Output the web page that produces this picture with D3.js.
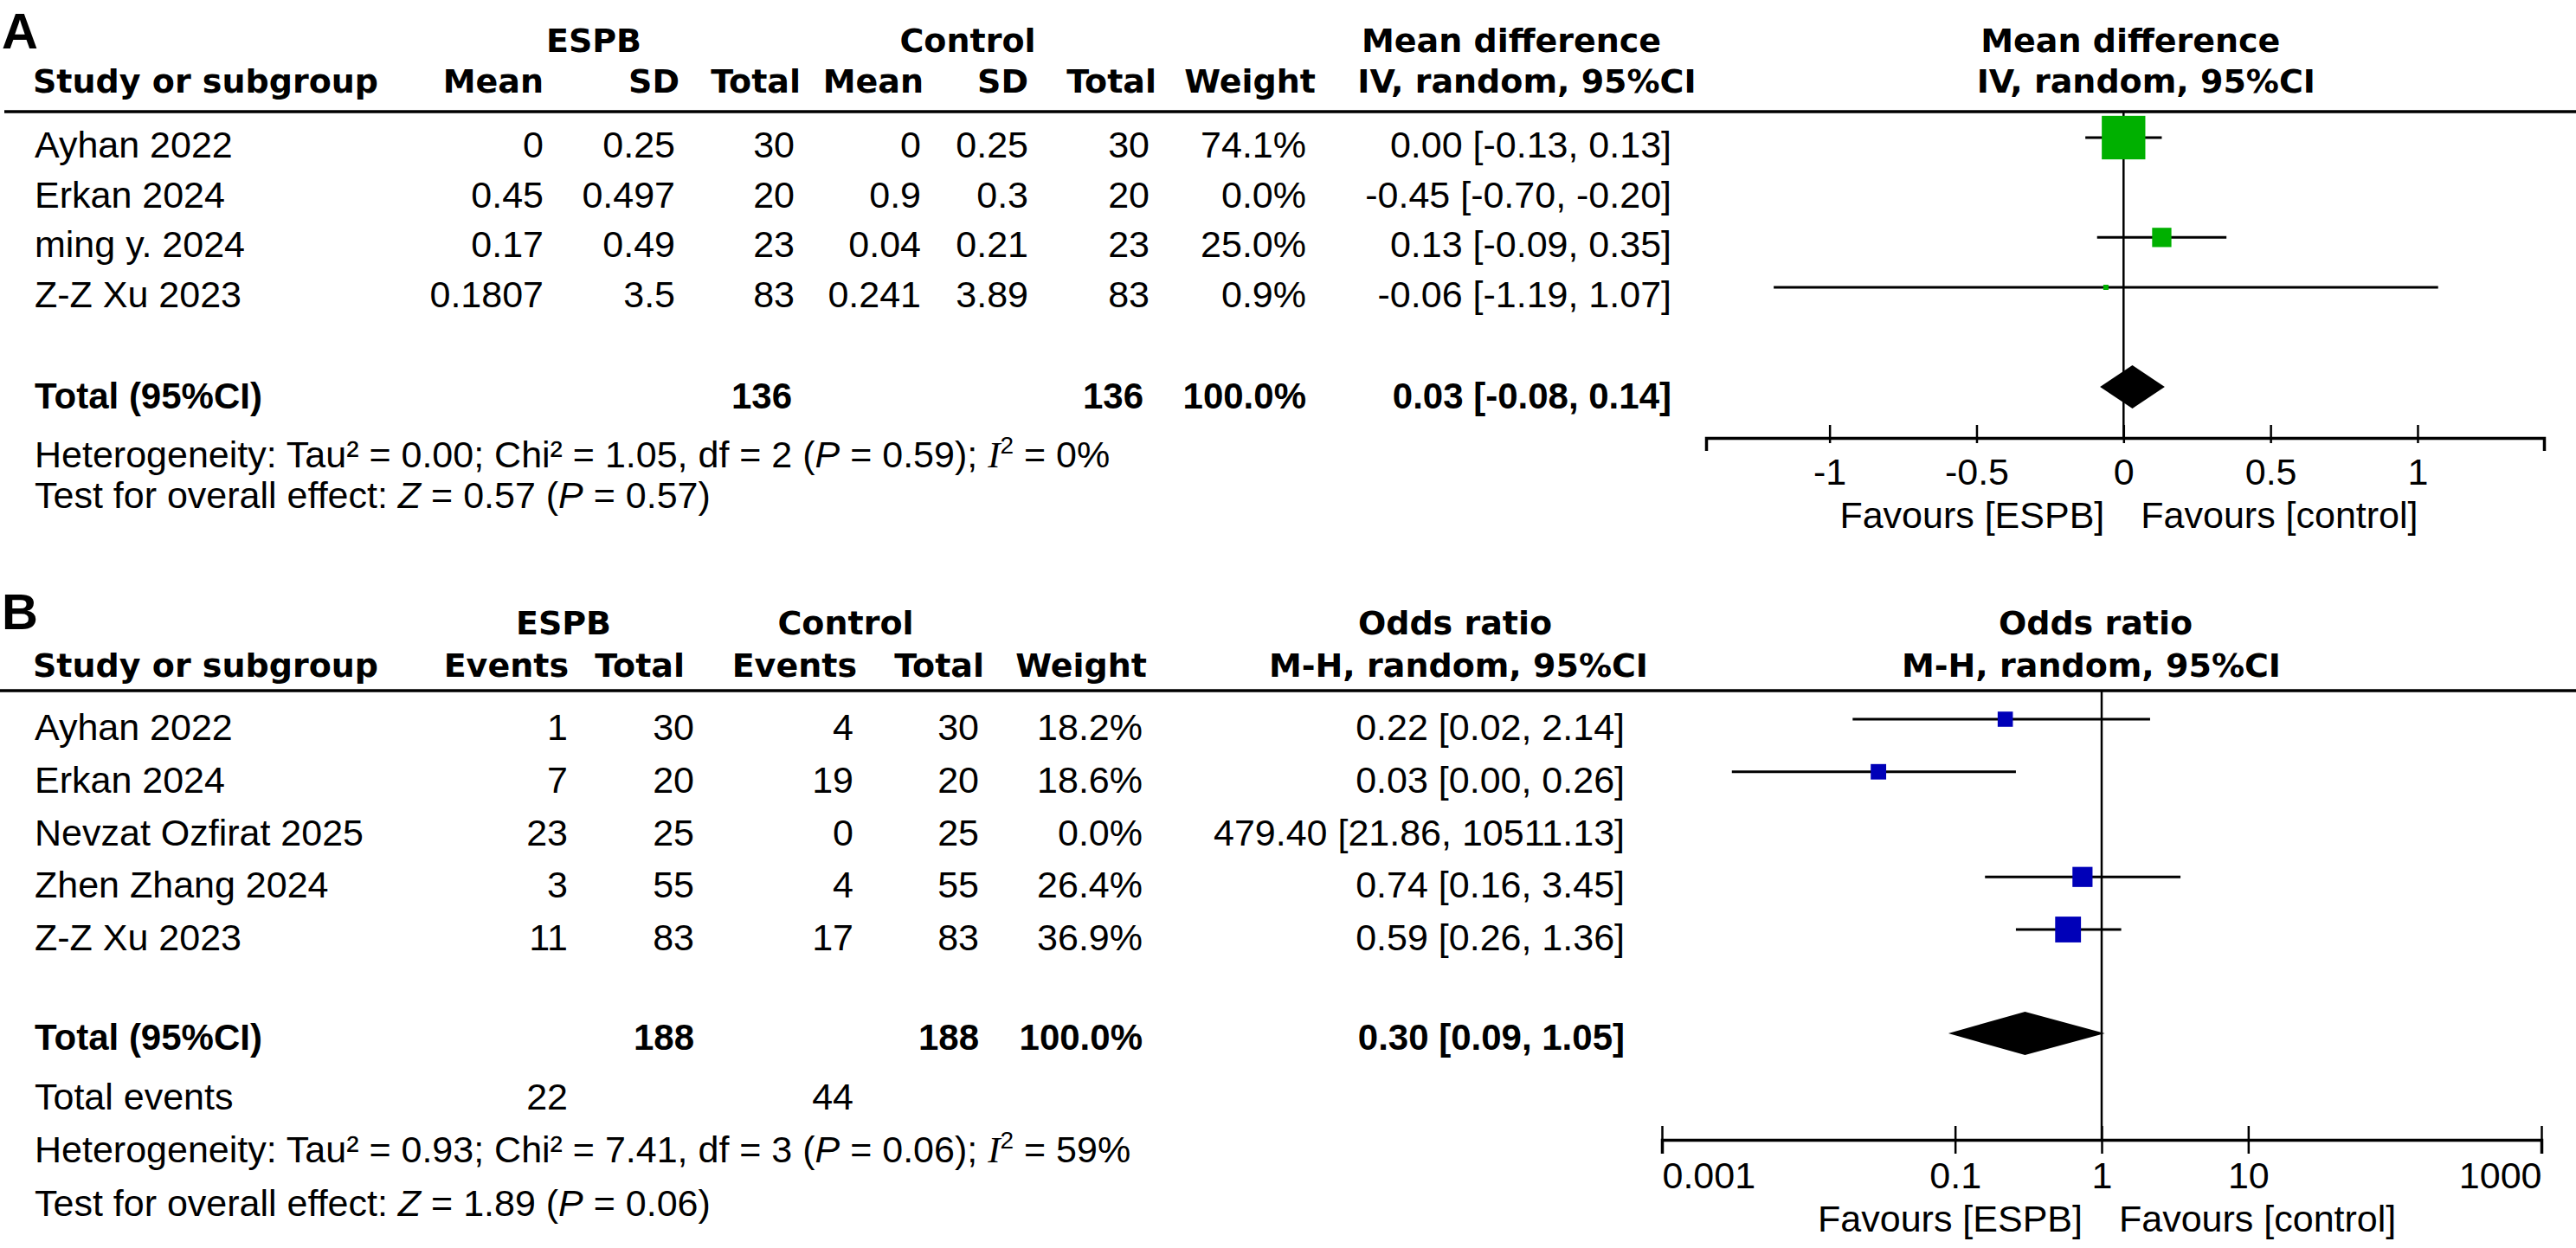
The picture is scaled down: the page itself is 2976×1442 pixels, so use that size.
<!DOCTYPE html>
<html>
<head>
<meta charset="utf-8">
<script src="https://cdn.jsdelivr.net/npm/d3@7"></script>
<style>
  body { margin: 0; background: #fff; }
  text { white-space: pre; }
</style>
</head>
<body>
<div id="chart"></div>
<script>

// ---- panel A data (mean difference) ----
var studiesA = ["Ayhan 2022", "Erkan 2024", "ming y. 2024", "Z-Z Xu 2023"];
var espbMeanA = [0, 0.45, 0.17, 0.1807],
    espbSdA = [0.25, 0.497, 0.49, 3.5],
    espbNA = [30, 20, 23, 83];
var ctrlMeanA = [0, 0.9, 0.04, 0.241],
    ctrlSdA = [0.25, 0.3, 0.21, 3.89],
    ctrlNA = [30, 20, 23, 83];
var weightA = [74.1, 0.0, 25.0, 0.9];
var mdA = [0.00, -0.45, 0.13, -0.06],
    mdLoA = [-0.13, -0.70, -0.09, -1.19],
    mdHiA = [0.13, -0.20, 0.35, 1.07];
var totalA = {espb: 136, ctrl: 136, est: 0.03, lo: -0.08, hi: 0.14};
var ticksA = [-1, -0.5, 0, 0.5, 1];

// ---- panel B data (odds ratio) ----
var studiesB = ["Ayhan 2022", "Erkan 2024", "Nevzat Ozfirat 2025", "Zhen Zhang 2024", "Z-Z Xu 2023"];
var espbEventsB = [1, 7, 23, 3, 11],
    espbNB = [30, 20, 25, 55, 83];
var ctrlEventsB = [4, 19, 0, 4, 17],
    ctrlNB = [30, 20, 25, 55, 83];
var weightB = [18.2, 18.6, 0.0, 26.4, 36.9];
var orB = [0.22, 0.03, 479.40, 0.74, 0.59],
    orLoB = [0.02, 0.003, 21.86, 0.16, 0.26],
    orHiB = [2.14, 0.26, 10511.13, 3.45, 1.36];
var totalB = {espb: 188, ctrl: 188, espbEvents: 22, ctrlEvents: 44, est: 0.30, lo: 0.09, hi: 1.05};
var ticksB = [0.001, 0.1, 1, 10, 1000];

var width = 2976, height = 1442;

var svg = d3.select("#chart").append("svg")
    .attr("width", width)
    .attr("height", height)
    .style("background", "#fff");

var bodyFont = "'Liberation Sans', Arial, sans-serif",
    headFont = "'DejaVu Sans', Verdana, sans-serif",
    serifFont = "'Liberation Serif', 'Times New Roman', serif",
    bodySize = 43,
    headSize = 38;

var green = "#00b000", blue = "#0000b8";

var sizeScale = d3.scalePow().exponent(0.75).domain([0, 100]).range([0, 63]);

function f2(v) { return v.toFixed(2); }
function pct(v) { return v.toFixed(1) + "%"; }
function ci(e, l, h) { return f2(e) + " [" + f2(l) + ", " + f2(h) + "]"; }

function label(x, y, s, anchor, kind) {
  var t = svg.append("text")
      .attr("x", x)
      .attr("y", y)
      .attr("text-anchor", anchor || "start")
      .attr("fill", "#000")
      .text(s);
  if (kind === "head") {
    t.attr("font-family", headFont).attr("font-size", headSize).attr("font-weight", "bold");
  } else if (kind === "bold") {
    t.attr("font-family", bodyFont).attr("font-size", 42).attr("font-weight", "bold");
  } else if (kind === "panel") {
    t.attr("font-family", bodyFont).attr("font-size", 58).attr("font-weight", "bold");
  } else {
    t.attr("font-family", bodyFont).attr("font-size", bodySize);
  }
  return t;
}

function richText(x, y, parts) {
  var t = svg.append("text")
      .attr("x", x)
      .attr("y", y)
      .attr("font-family", bodyFont)
      .attr("font-size", bodySize)
      .attr("fill", "#000");
  var shift = 0;
  parts.forEach(function(p) {
    var s = t.append("tspan").text(p[0]);
    if (p[1] === "i") s.attr("font-style", "italic");
    if (p[1] === "I") s.attr("font-style", "italic").attr("font-family", serifFont);
    if (p[1] === "sup") {
      s.attr("font-size", 28).attr("dy", -16);
      shift = 16;
    } else if (shift) {
      s.attr("dy", shift);
      shift = 0;
    }
  });
}

function column(values, x, rowY, fmt, anchor) {
  svg.append("g").selectAll("text")
    .data(values)
    .enter().append("text")
      .attr("x", x)
      .attr("y", function(d, i) { return rowY(i); })
      .attr("text-anchor", anchor || "end")
      .attr("font-family", bodyFont)
      .attr("font-size", bodySize)
      .attr("fill", "#000")
      .text(function(d, i) { return fmt ? fmt(d, i) : String(d); });
}

function forest(x, rowY, est, lo, hi, weights, color, offset) {
  // studies with 0% weight get no marker and no CI line
  var idx = weights.map(function(w, i) { return i; }).filter(function(i) { return weights[i] > 0; });
  var g = svg.append("g");
  g.selectAll("line.ci")
    .data(idx)
    .enter().append("line")
      .attr("class", "ci")
      .attr("x1", function(i) { return x(lo[i]); })
      .attr("x2", function(i) { return x(hi[i]); })
      .attr("y1", function(i) { return rowY(i) - offset; })
      .attr("y2", function(i) { return rowY(i) - offset; })
      .attr("stroke", "#000")
      .attr("stroke-width", 3);
  g.selectAll("rect")
    .data(idx)
    .enter().append("rect")
      .attr("x", function(i) { return x(est[i]) - Math.max(6, sizeScale(weights[i])) / 2; })
      .attr("y", function(i) { return rowY(i) - offset - Math.max(6, sizeScale(weights[i])) / 2; })
      .attr("width", function(i) { return Math.max(6, sizeScale(weights[i])); })
      .attr("height", function(i) { return Math.max(6, sizeScale(weights[i])); })
      .attr("fill", color);
}

function diamond(x, cy, t) {
  svg.append("path")
    .attr("d", "M" + x(t.lo) + "," + cy + "L" + x(t.est) + "," + (cy - 25) +
               "L" + x(t.hi) + "," + cy + "L" + x(t.est) + "," + (cy + 25) + "Z")
    .attr("fill", "#000");
}

function axis(x, y, ticks, up, down, labelY, fav, edgeAlign) {
  var g = svg.append("g")
      .attr("transform", "translate(0," + y + ")")
      .call(d3.axisBottom(x).tickValues(ticks).tickSizeOuter(0).tickSize(up)
        .tickFormat(function(d) { return String(d); }));
  g.select(".domain").attr("stroke", "#000").attr("stroke-width", 3.5);
  g.selectAll(".tick line").attr("y1", -up).attr("y2", down).attr("stroke", "#000").attr("stroke-width", 2.5);
  g.selectAll(".tick text")
      .attr("y", labelY)
      .attr("dy", 0)
      .attr("fill", "#000")
      .attr("font-family", bodyFont)
      .attr("font-size", bodySize);
  if (edgeAlign) {
    var tt = g.selectAll(".tick text").nodes();
    d3.select(tt[0]).attr("text-anchor", "start");
    d3.select(tt[tt.length - 1]).attr("text-anchor", "end");
  }
  label(fav - 22, y + labelY + 50, "Favours [ESPB]", "end");
  label(fav + 20, y + labelY + 50, "Favours [control]", "start");
}

// ================= Panel A =================
var rowA = d3.scaleLinear().domain([0, studiesA.length - 1]).range([182, 355]);
var xA = d3.scaleLinear().domain([-1.42, 1.43]).range([1971, 2939]);

label(2, 56, "A", "start", "panel");
label(686, 60, "ESPB", "middle", "head");
label(1118, 60, "Control", "middle", "head");
label(1746, 60, "Mean difference", "middle", "head");
label(xA(0) + 8, 60, "Mean difference", "middle", "head");

label(38, 107, "Study or subgroup", "start", "head");
label(628, 107, "Mean", "end", "head");
label(785, 107, "SD", "end", "head");
label(925, 107, "Total", "end", "head");
label(1067, 107, "Mean", "end", "head");
label(1188, 107, "SD", "end", "head");
label(1336, 107, "Total", "end", "head");
label(1520, 107, "Weight", "end", "head");
label(1764, 107, "IV, random, 95%CI", "middle", "head");
label(xA(0) + 26, 107, "IV, random, 95%CI", "middle", "head");

svg.append("line")
    .attr("x1", 5).attr("x2", width)
    .attr("y1", 129).attr("y2", 129)
    .attr("stroke", "#000").attr("stroke-width", 3.5);

column(studiesA, 40, rowA, null, "start");
column(espbMeanA, 628, rowA);
column(espbSdA, 780, rowA);
column(espbNA, 918, rowA);
column(ctrlMeanA, 1064, rowA);
column(ctrlSdA, 1188, rowA);
column(ctrlNA, 1328, rowA);
column(weightA, 1509, rowA, pct);
column(mdA, 1931, rowA, function(d, i) { return ci(d, mdLoA[i], mdHiA[i]); });

label(40, 472, "Total (95%CI)", "start", "bold");
label(915, 472, String(totalA.espb), "end", "bold");
label(1321, 472, String(totalA.ctrl), "end", "bold");
label(1509, 472, "100.0%", "end", "bold");
label(1931, 472, ci(totalA.est, totalA.lo, totalA.hi), "end", "bold");

richText(40, 540, [["Heterogeneity: Tau² = 0.00; Chi² = 1.05, df = 2 (", ""], ["P", "i"], [" = 0.59); ", ""],
                   ["I", "I"], ["2", "sup"], [" = 0%", ""]]);
richText(40, 587, [["Test for overall effect: ", ""], ["Z", "i"], [" = 0.57 (", ""], ["P", "i"], [" = 0.57)", ""]]);

svg.append("line")
    .attr("x1", xA(0)).attr("x2", xA(0))
    .attr("y1", 129).attr("y2", 506)
    .attr("stroke", "#000").attr("stroke-width", 2.5);

forest(xA, rowA, mdA, mdLoA, mdHiA, weightA, green, 23);
diamond(xA, 447, totalA);
axis(xA, 506, ticksA, 15, 6, 54, xA(0), false);

// ================= Panel B =================
var rowB = d3.scaleLinear().domain([0, studiesB.length - 1]).range([855, 1098]);
var xB = d3.scaleLog().domain([0.001, 1000]).range([1920, 2936]);

label(2, 727, "B", "start", "panel");
label(651, 733, "ESPB", "middle", "head");
label(977, 733, "Control", "middle", "head");
label(1681, 733, "Odds ratio", "middle", "head");
label(xB(1) - 7, 733, "Odds ratio", "middle", "head");

label(38, 782, "Study or subgroup", "start", "head");
label(657, 782, "Events", "end", "head");
label(791, 782, "Total", "end", "head");
label(990, 782, "Events", "end", "head");
label(1137, 782, "Total", "end", "head");
label(1325, 782, "Weight", "end", "head");
label(1685, 782, "M-H, random, 95%CI", "middle", "head");
label(xB(1) - 12, 782, "M-H, random, 95%CI", "middle", "head");

svg.append("line")
    .attr("x1", 0).attr("x2", width)
    .attr("y1", 798).attr("y2", 798)
    .attr("stroke", "#000").attr("stroke-width", 3.5);

column(studiesB, 40, rowB, null, "start");
column(espbEventsB, 656, rowB);
column(espbNB, 802, rowB);
column(ctrlEventsB, 986, rowB);
column(ctrlNB, 1131, rowB);
column(weightB, 1320, rowB, pct);
column(orB, 1877, rowB, function(d, i) { return ci(d, orLoB[i], orHiB[i]); });

label(40, 1213, "Total (95%CI)", "start", "bold");
label(802, 1213, String(totalB.espb), "end", "bold");
label(1131, 1213, String(totalB.ctrl), "end", "bold");
label(1320, 1213, "100.0%", "end", "bold");
label(1877, 1213, ci(totalB.est, totalB.lo, totalB.hi), "end", "bold");

label(40, 1282, "Total events", "start");
label(656, 1282, String(totalB.espbEvents), "end");
label(986, 1282, String(totalB.ctrlEvents), "end");

richText(40, 1343, [["Heterogeneity: Tau² = 0.93; Chi² = 7.41, df = 3 (", ""], ["P", "i"], [" = 0.06); ", ""],
                    ["I", "I"], ["2", "sup"], [" = 59%", ""]]);
richText(40, 1405, [["Test for overall effect: ", ""], ["Z", "i"], [" = 1.89 (", ""], ["P", "i"], [" = 0.06)", ""]]);

svg.append("line")
    .attr("x1", xB(1)).attr("x2", xB(1))
    .attr("y1", 798).attr("y2", 1317)
    .attr("stroke", "#000").attr("stroke-width", 2.5);

forest(xB, rowB, orB, orLoB, orHiB, weightB, blue, 24);
diamond(xB, 1194, totalB);
axis(xB, 1317, ticksB, 16, 16, 56, xB(1), true);

</script>
</body>
</html>
